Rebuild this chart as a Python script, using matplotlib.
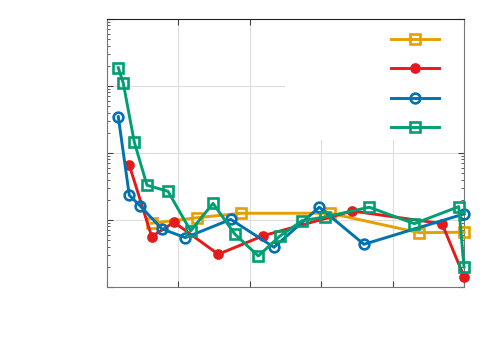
import matplotlib
matplotlib.use("Agg")
import matplotlib.pyplot as plt
from matplotlib.patches import Rectangle
from matplotlib.ticker import LogLocator, NullFormatter

# data (log y axis, no labels)
x_orange = [0.626, 1.256, 1.881, 3.123, 4.374, 5.0]
y_orange = [0.000893, 0.00108, 0.00126, 0.00126, 0.000646, 0.000657]

x_red = [0.312, 0.626, 0.938, 1.559, 2.189, 3.435, 4.692, 5.0]
y_red = [0.00662, 0.000564, 0.000925, 0.000308, 0.000583, 0.00136, 0.000881, 0.000143]

x_blue = [0.158, 0.312, 0.462, 0.770, 1.097, 1.733, 2.339, 2.973, 3.599, 5.0]
y_blue = [0.0348, 0.00234, 0.00163, 0.000735, 0.000545, 0.00102, 0.000392, 0.00155, 0.000434, 0.00123]

x_green = [0.158, 0.228, 0.382, 0.560, 0.854, 1.172, 1.485, 1.789, 2.119, 2.423,
           2.735, 3.053, 3.674, 4.304, 4.926, 5.0]
y_green = [0.187, 0.110, 0.0146, 0.0033, 0.00268, 0.000686, 0.00177, 0.000618, 0.000290, 0.000577,
           0.000977, 0.00111, 0.00155, 0.000881, 0.00158, 0.000199]

fig = plt.figure(figsize=(5, 3.5), dpi=100)
ax = fig.add_axes([0.214, 0.18, 0.714, 0.766])

lw = 2.1
ms = 7
mew = 1.9
h1, = ax.plot(x_orange, y_orange, color='#E69F00', lw=lw, marker='s', ms=ms, mew=mew,
              mfc='none', clip_on=False, zorder=3)
h2, = ax.plot(x_red, y_red, color='#E41A1C', lw=lw, marker='o', ms=5.8, mew=mew,
              clip_on=False, zorder=3)
h3, = ax.plot(x_blue, y_blue, color='#0072B2', lw=lw, marker='o', ms=ms, mew=mew,
              mfc='none', clip_on=False, zorder=3)
h4, = ax.plot(x_green, y_green, color='#009E73', lw=lw, marker='s', ms=ms, mew=mew,
              mfc='none', clip_on=False, zorder=3)

ax.set_yscale('log')
ax.set_xlim(0, 5)
ax.set_ylim(1e-4, 1)
ax.set_xticks([0, 1, 2, 3, 4, 5])
ax.yaxis.set_major_locator(LogLocator(base=10, numticks=10))
ax.yaxis.set_minor_locator(LogLocator(base=10, subs=range(2, 10), numticks=10))
ax.xaxis.set_major_formatter(NullFormatter())
ax.yaxis.set_major_formatter(NullFormatter())
ax.yaxis.set_minor_formatter(NullFormatter())
ax.tick_params(which='both', direction='in', top=True, right=True, colors='#444444')
ax.tick_params(which='major', length=4, width=0.8)
ax.tick_params(which='minor', length=2, width=0.6)
ax.grid(True, which='major', color='#dddddd', lw=0.8, zorder=0)
ax.set_axisbelow(True)

for side in ['left', 'bottom', 'right']:
    ax.spines[side].set_color('#777777')
ax.spines['top'].set_color('#222222')

# white legend box covering the grid
ax.add_patch(Rectangle((0.499, 0.548), 0.501, 0.452, transform=ax.transAxes,
                       facecolor='white', edgecolor='none', zorder=1))

ax.legend([h1, h2, h3, h4], ['', '', '', ''], loc='upper left',
          bbox_to_anchor=(0.775, 0.975), frameon=False, handlelength=3.5,
          labelspacing=1.12, handletextpad=0, borderpad=0)

plt.savefig('out.png', dpi=100)
plt.close(fig)
